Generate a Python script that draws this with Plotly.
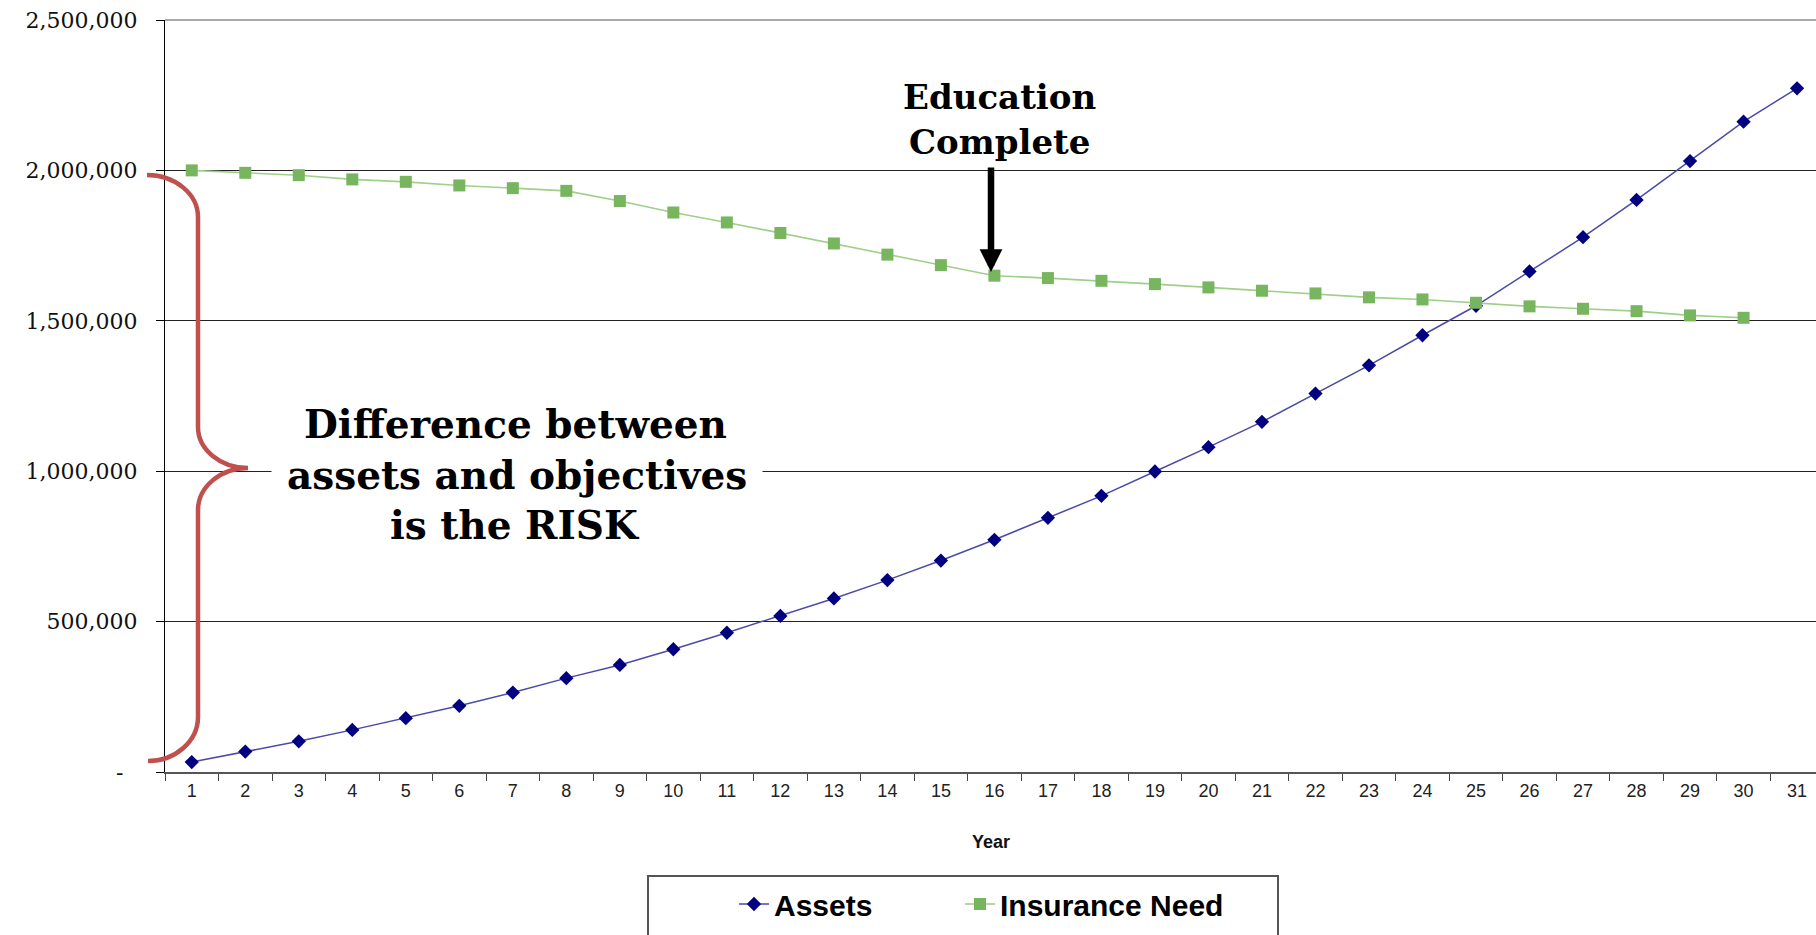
import plotly.graph_objects as go

# ---------------- data ----------------
YEARS = [str(i) for i in range(1, 32)]
ASSETS = [33000, 68000, 102000, 140000, 179000, 220000, 264000, 312000, 356000, 408000,
          463000, 519000, 577000, 638000, 703000, 772000, 845000, 918000, 999000, 1080000,
          1164000, 1258000, 1352000, 1452000, 1550000, 1664000, 1778000, 1902000, 2031000,
          2162000, 2273000]
INSURANCE_YEARS = [str(i) for i in range(1, 31)]
INSURANCE_NEED = [2000000, 1992000, 1984000, 1970000, 1962000, 1950000, 1941000, 1932000,
                  1898000, 1860000, 1827000, 1792000, 1757000, 1720000, 1685000, 1650000,
                  1642000, 1633000, 1622000, 1611000, 1600000, 1591000, 1578000, 1571000,
                  1560000, 1548000, 1540000, 1532000, 1518000, 1510000]
Y_TICKS = [0, 500000, 1000000, 1500000, 2000000, 2500000]
Y_TICK_TEXT = ["-\u00a0\u00a0", "500,000", "1,000,000", "1,500,000", "2,000,000", "2,500,000"]

W, H = 1816, 935
L, R, T, B = 165, 0, 20, 163
PW, PH = W - L - R, H - T - B
CAT_W = 53.51


def px(x):
    return (x - L) / PW


def py(y):
    return (H - B - y) / PH


fig = go.Figure()
fig.add_trace(go.Scatter(
    x=YEARS, y=ASSETS, name="Assets", mode="lines+markers",
    line=dict(color="#4a4aa8", width=1.5),
    marker=dict(symbol="diamond", size=11, color="#000080"),
    legend="legend",
))
fig.add_trace(go.Scatter(
    x=INSURANCE_YEARS, y=INSURANCE_NEED, name="Insurance Need", mode="lines+markers",
    line=dict(color="#9fd08a", width=1.6),
    marker=dict(symbol="square", size=12, color="#77b55e"),
    legend="legend2",
))

# brace path (pixel coordinates -> paper)
pts = [
    ("M", [(147, 175)]),
    ("C", [(175, 175), (198, 194), (198, 217)]),
    ("L", [(198, 427)]),
    ("C", [(198, 449.5), (220.5, 468), (248, 468)]),
    ("C", [(220.5, 468), (198, 487), (198, 510)]),
    ("L", [(198, 717)]),
    ("C", [(198, 741), (175.5, 761), (148, 761)]),
]
path = " ".join(cmd + " " + " ".join(f"{px(a):.5f},{py(b):.5f}" for a, b in p) for cmd, p in pts)

shapes = [
    dict(type="path", xref="paper", yref="paper", path=path,
         line=dict(color="#c0504d", width=4.5)),
    dict(type="line", xref="paper", yref="paper", x0=0, x1=1, y0=1, y1=1,
         line=dict(color="#8c8c8c", width=1.5)),
    dict(type="rect", xref="paper", yref="paper", x0=px(648), x1=px(1278),
         y0=py(876), y1=py(970), line=dict(color="#555555", width=2), fillcolor="rgba(0,0,0,0)"),
]

serif = "DejaVu Serif"
big = dict(family=serif, size=39, color="black", weight="bold")
edu = dict(family=serif, size=34, color="black", weight="bold")
annotations = [
    # middle line first so its white box sits beneath the other lines
    dict(xref="paper", yref="paper", x=px(517), y=py(475), text="assets and objectives", showarrow=False,
         font=big, xanchor="center", yanchor="middle", bgcolor="white", borderpad=15),
    dict(xref="paper", yref="paper", x=px(515), y=py(424), text="Difference between", showarrow=False,
         font=big, xanchor="center", yanchor="middle"),
    dict(xref="paper", yref="paper", x=px(515), y=py(525), text="is the RISK", showarrow=False,
         font=big, xanchor="center", yanchor="middle"),
    dict(xref="paper", yref="paper", x=px(999), y=py(97), text="Education", showarrow=False,
         font=edu, xanchor="center", yanchor="middle"),
    dict(xref="paper", yref="paper", x=px(999), y=py(142), text="Complete", showarrow=False,
         font=edu, xanchor="center", yanchor="middle"),
    dict(xref="paper", yref="paper", x=px(991), y=py(272), text="", showarrow=True,
         axref="pixel", ayref="pixel", ax=0, ay=-106, arrowhead=2, arrowwidth=6.5, arrowsize=0.7,
         arrowcolor="black", standoff=0),
    dict(xref="paper", yref="paper", x=px(991), y=py(842), text="Year", showarrow=False,
         font=dict(family="Liberation Sans, Arial", size=18, color="#111", weight="bold"),
         xanchor="center", yanchor="middle"),
]

legend_font = dict(family="Liberation Sans, Arial", size=30, color="black", weight="bold")
fig.update_layout(
    width=W, height=H,
    margin=dict(l=L, r=R, t=T, b=B, autoexpand=False),
    paper_bgcolor="white", plot_bgcolor="white",
    showlegend=True,
    legend=dict(
        orientation="h", xref="container", yref="container",
        x=734 / W, xanchor="left", y=1 - 904 / H, yanchor="middle",
        font=legend_font, bgcolor="rgba(0,0,0,0)", borderwidth=0,
    ),
    legend2=dict(
        orientation="h", xref="container", yref="container",
        x=960 / W, xanchor="left", y=1 - 904 / H, yanchor="middle",
        font=legend_font, bgcolor="rgba(0,0,0,0)", borderwidth=0,
    ),
    xaxis=dict(
        type="category", range=[-0.5, -0.5 + PW / CAT_W],
        tickson="boundaries", ticks="outside", ticklen=7, tickcolor="#444", tickwidth=1.3,
        showline=True, linecolor="#555", linewidth=1.5,
        showgrid=False, zeroline=False,
        tickfont=dict(family="Liberation Sans, Arial", size=18, color="#222"),
        ticklabelstandoff=2,
    ),
    yaxis=dict(
        range=[0, 2500000], tickvals=Y_TICKS, ticktext=Y_TICK_TEXT,
        ticks="outside", ticklen=8, tickcolor="black", tickwidth=1.3,
        showline=True, linecolor="black", linewidth=1.3,
        showgrid=True, gridcolor="#222", gridwidth=1.3, zeroline=False,
        tickfont=dict(family=serif, size=22, color="#111"),
        ticklabelstandoff=14,
    ),
    shapes=shapes,
    annotations=annotations,
)

fig.write_html("out.html")
